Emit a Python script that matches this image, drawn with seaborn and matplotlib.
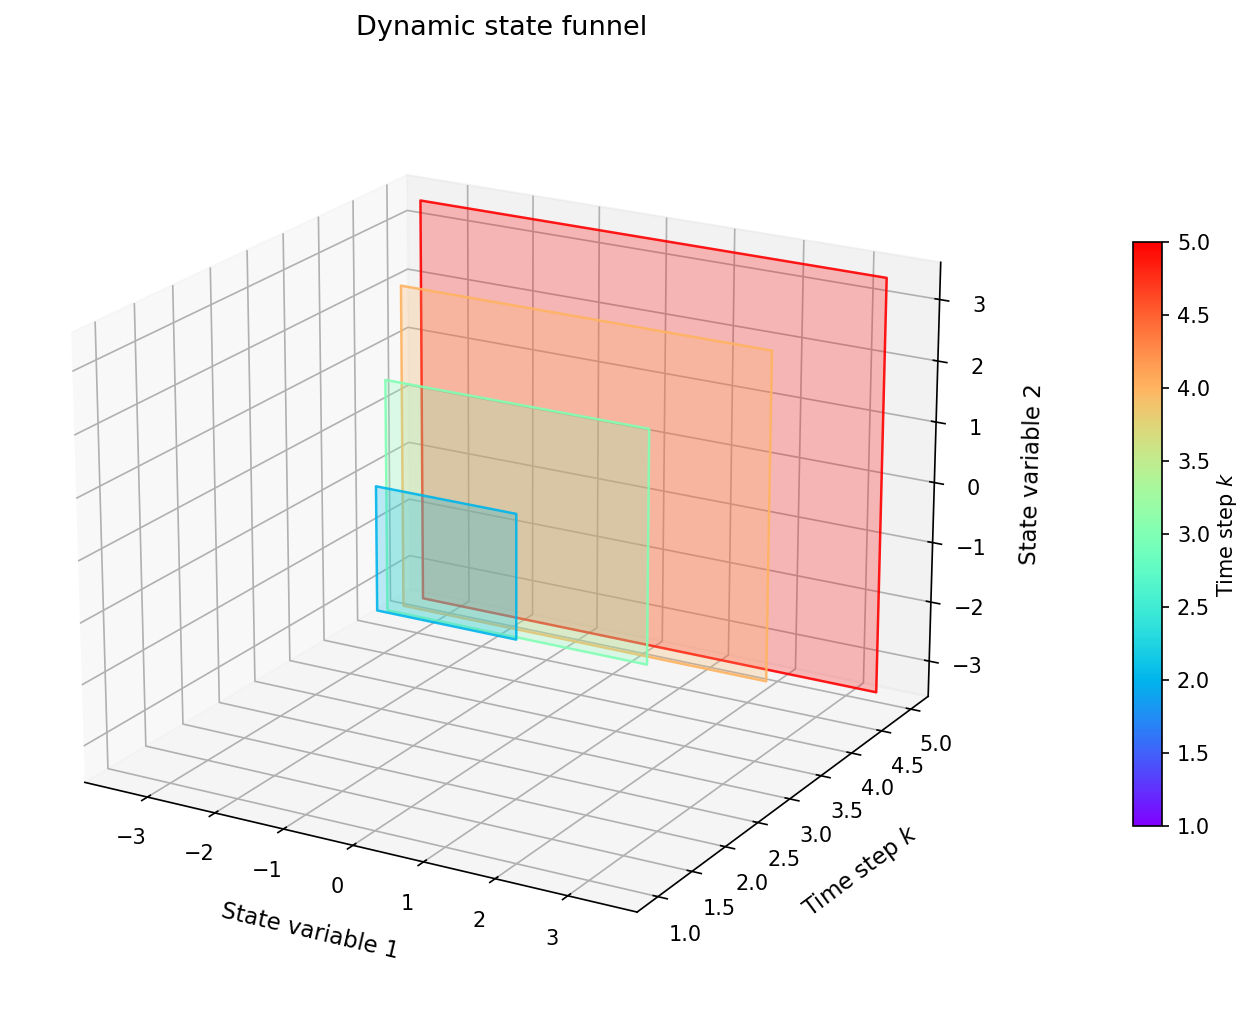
import numpy as np
import matplotlib
matplotlib.use("Agg")
import matplotlib.pyplot as plt
from matplotlib.colors import Normalize
from matplotlib.cm import ScalarMappable
from mpl_toolkits.mplot3d.art3d import Poly3DCollection
import seaborn as sns

time_steps = [2, 3, 4, 5]
half_widths = [1.0, 1.9, 2.7, 3.43]
k_range = [1, 5]

cmap = sns.color_palette("rainbow", as_cmap=True)
norm = Normalize(k_range[0], k_range[1])

fig = plt.figure(figsize=(11.2, 8.43), dpi=150)
ax = fig.add_subplot(111, projection="3d")

for k, h in zip(time_steps, half_widths):
    corners = [(-h, k, -h), (h, k, -h), (h, k, h), (-h, k, h)]
    color = cmap(norm(k))
    poly = Poly3DCollection([corners], linewidth=1.2)
    poly.set_facecolor((*color[:3], 0.25))
    poly.set_edgecolor((*color[:3], 0.9))
    ax.add_collection3d(poly)

ax.set_xlim(-3.94, 3.94)
ax.set_ylim(0.7, 5.3)
ax.set_zlim(-3.6, 3.6)
ax.set_xticks(range(-3, 4))
ax.set_yticks(np.arange(1, 5.5, 0.5))
ax.set_zticks(range(-3, 4))
ax.set_xlabel("State variable 1", fontsize=11, labelpad=10)
ax.set_ylabel("Time step $k$", fontsize=11, labelpad=10)
ax.set_zlabel("State variable 2", fontsize=11, labelpad=8)
ax.set_title("Dynamic state funnel", fontsize=13)
ax.view_init(elev=20, azim=-60)

sm = ScalarMappable(norm=norm, cmap=cmap)
cb = fig.colorbar(sm, ax=ax, shrink=0.6, pad=0.111, fraction=0.139)
cb.set_label("Time step $k$", labelpad=2.5)

fig.savefig("out.png", dpi=150, bbox_inches="tight")
